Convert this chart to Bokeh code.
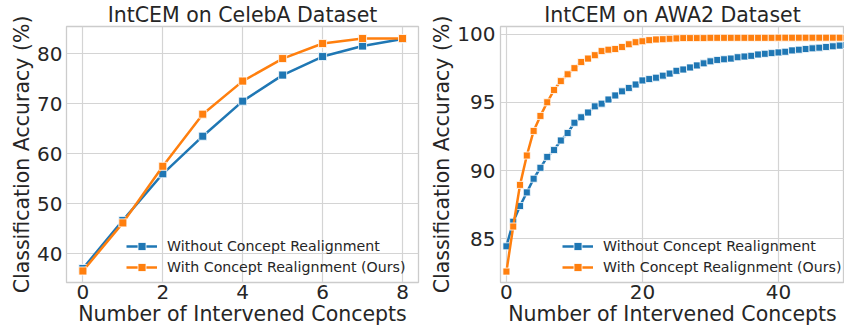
from bokeh.plotting import figure
from bokeh.layouts import row
from bokeh.models import Range1d, FixedTicker, Legend, LegendItem
from bokeh.embed import file_html
from bokeh.resources import INLINE

# ---- data ----
celeba_x = [0, 1, 2, 3, 4, 5, 6, 7, 8]
celeba_without = [37.1, 46.7, 56.0, 63.5, 70.5, 75.7, 79.4, 81.5, 82.9]
celeba_with = [36.6, 46.2, 57.5, 67.9, 74.5, 79.0, 82.0, 83.0, 83.0]

awa_x = list(range(0, 51))
awa_without = [84.45, 86.25, 87.4, 88.4, 89.4, 90.2, 91.0, 91.5, 92.2, 92.75,
               93.5, 93.9, 94.25, 94.7, 94.9, 95.2, 95.5, 95.8, 96.05, 96.3,
               96.6, 96.7, 96.8, 96.95, 97.1, 97.3, 97.4, 97.55, 97.7, 97.85,
               98.0, 98.1, 98.15, 98.2, 98.3, 98.35, 98.4, 98.5, 98.55, 98.6,
               98.65, 98.7, 98.8, 98.85, 98.9, 98.95, 99.0, 99.05, 99.1, 99.15,
               99.2]
awa_with = [82.6, 85.9, 88.95, 91.1, 92.9, 94.0, 95.0, 95.9, 96.55, 97.05,
            97.5, 97.95, 98.2, 98.45, 98.75, 98.85, 98.9, 99.05, 99.25, 99.4,
            99.47, 99.55, 99.6, 99.62, 99.65, 99.68, 99.7, 99.7, 99.7, 99.7,
            99.72, 99.72, 99.72, 99.72, 99.72, 99.72, 99.72, 99.72, 99.72, 99.72,
            99.73, 99.73, 99.73, 99.73, 99.73, 99.73, 99.73, 99.73, 99.73, 99.73,
            99.73]

celeba_xticks = [0, 2, 4, 6, 8]
celeba_yticks = [40, 50, 60, 70, 80]
awa_xticks = [0, 20, 40]
awa_yticks = [85, 90, 95, 100]

labels = ["Without Concept Realignment", "With Concept Realignment (Ours)"]
titles = ["IntCEM on CelebA Dataset", "IntCEM on AWA2 Dataset"]
xlabel = "Number of Intervened Concepts"
ylabel = "Classification Accuracy (%)"

BLUE = "#1f77b4"
ORANGE = "#ff7f0e"
TEXT = "#262626"
GRID = "#d4d4d4"
FONT = "DejaVu Sans"


def make(title, x, ys, xr, yr, xt, yt, w, minl, minr, msize, ystand, legx):
    p = figure(width=w, height=328, output_backend="svg", toolbar_location=None,
               x_range=Range1d(*xr), y_range=Range1d(*yr),
               min_border_left=minl, min_border_right=minr,
               min_border_top=0, min_border_bottom=45)
    p.title.text = title
    p.title.text_font = FONT
    p.title.text_font_size = "20.5px"
    p.title.text_font_style = "normal"
    p.title.text_color = TEXT
    p.title.align = "center"
    p.title.offset = 0
    p.title.standoff = 0
    p.outline_line_color = "#cccccc"
    p.outline_line_width = 1.3
    for ax in (p.xaxis[0], p.yaxis[0]):
        ax.axis_line_color = None
        ax.major_tick_line_color = None
        ax.minor_tick_line_color = None
        ax.major_tick_out = 0
        ax.major_tick_in = 0
        ax.minor_tick_out = 0
        ax.major_label_text_font = FONT
        ax.major_label_text_font_size = "20px"
        ax.major_label_text_color = TEXT
        ax.axis_label_text_font = FONT
        ax.axis_label_text_font_size = "20.5px"
        ax.axis_label_text_font_style = "normal"
        ax.axis_label_text_color = TEXT
        ax.axis_label_standoff = 0
    p.xaxis[0].major_label_standoff = 2
    p.yaxis[0].major_label_standoff = ystand
    p.xaxis[0].ticker = FixedTicker(ticks=xt)
    p.yaxis[0].ticker = FixedTicker(ticks=yt)
    p.xaxis[0].axis_label = xlabel
    p.yaxis[0].axis_label = ylabel
    p.grid.grid_line_color = GRID
    p.grid.grid_line_width = 1.2
    items = []
    for yv, c, lab in zip(ys, [BLUE, ORANGE], labels):
        l = p.line(x, yv, line_color=c, line_width=2.5)
        s = p.scatter(x, yv, marker="square", size=msize, fill_color=c,
                      line_color="white", line_width=0.8)
        items.append(LegendItem(label=lab, renderers=[l, s]))
    leg = Legend(items=items, location=(legx, 5), padding=0, margin=0,
                 spacing=1, glyph_width=31, glyph_height=20, label_height=20,
                 label_standoff=10, label_text_font=FONT,
                 label_text_font_size="14.2px", label_text_color=TEXT,
                 background_fill_alpha=0, border_line_alpha=0)
    p.add_layout(leg, "center")
    return p


p1 = make(titles[0], celeba_x, [celeba_without, celeba_with],
          (-0.41, 8.4), (34.3, 85.4), celeba_xticks, celeba_yticks,
          422, 66, 4, 8, 4, 60)
p2 = make(titles[1], awa_x, [awa_without, awa_with],
          (-0.87, 49.7), (81.8, 100.55), awa_xticks, awa_yticks,
          422, 78, 0, 7, 5, 62)

layout = row(p1, p2, spacing=0)
open("out.html", "w").write(file_html(layout, INLINE))
